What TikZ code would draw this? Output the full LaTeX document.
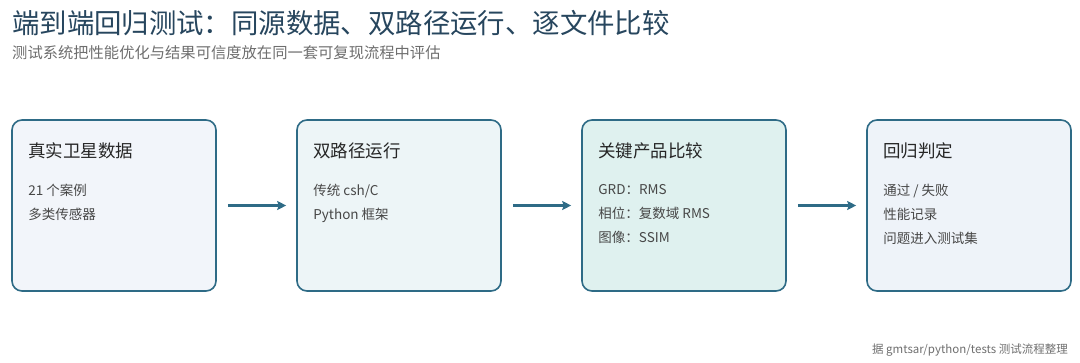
\documentclass[tikz,border=0pt]{standalone}
\usepackage{fontspec}
\setmainfont{Noto Sans CJK SC}
\usetikzlibrary{arrows.meta,positioning}
\definecolor{edgeblue}{HTML}{2E6B86}
\definecolor{titleink}{HTML}{27465E}
\definecolor{subink}{HTML}{6E6E6E}
\definecolor{bodyink}{HTML}{474747}
\definecolor{fillA}{HTML}{F2F5FA}
\definecolor{fillB}{HTML}{EDF5F7}
\definecolor{fillC}{HTML}{DFF1EF}
\definecolor{fillD}{HTML}{EEF3F9}
\begin{document}
\begin{tikzpicture}[x=1pt,y=-1pt, line join=round, >={Stealth[length=9pt,width=9pt,inset=1.5pt]}]
	\tikzset{
		stage/.style={draw=edgeblue, line width=1.6pt, rounded corners=10pt, minimum width=204pt, minimum height=171pt, inner sep=0pt},
		stagehead/.style={anchor=base west, inner sep=0pt, font=\fontsize{17.5}{20}\selectfont, text=black!85},
		stagebody/.style={anchor=north west, inner sep=0pt, align=left, font=\fontsize{13.5}{24}\selectfont, text=bodyink},
		flow/.style={->, draw=edgeblue, line width=2.4pt, shorten <=11pt, shorten >=10pt}
	}
	\useasboundingbox (0,0) rectangle (1080,362);
	
	% headings
	\node[anchor=base west, inner sep=0pt, font=\fontsize{27.4}{30}\selectfont, text=titleink] (title) at (12,33) {端到端回归测试：同源数据、双路径运行、逐文件比较};
	\node[anchor=base west, inner sep=0pt, font=\fontsize{15.3}{18}\selectfont, text=subink] (subtitle) at (12,58) {测试系统把性能优化与结果可信度放在同一套可复现流程中评估};
	
	% stages
	\foreach \i/\x/\c in {1/114/fillA,2/399/fillB,3/684/fillC,4/969/fillD}
		\node[stage, fill=\c] (s\i) at (\x,205.5) {};
	
	\node[stagehead] (h1) at ([shift={(17,38)}]s1.north west) {真实卫星数据};
	\node[stagebody] (b1) at ([shift={(17,65)}]s1.north west) {21 个案例\\多类传感器};
	
	\node[stagehead] (h2) at ([shift={(17,38)}]s2.north west) {双路径运行};
	\node[stagebody] (b2) at ([shift={(17,65)}]s2.north west) {传统 csh/C\\Python 框架};
	
	\node[stagehead] (h3) at ([shift={(17,38)}]s3.north west) {关键产品比较};
	\node[stagebody] (b3) at ([shift={(17,65)}]s3.north west) {GRD：RMS\\相位：复数域 RMS\\图像：SSIM};
	
	\node[stagehead] (h4) at ([shift={(17,38)}]s4.north west) {回归判定};
	\node[stagebody] (b4) at ([shift={(17,65)}]s4.north west) {通过 / 失败\\性能记录\\问题进入测试集};
	
	% connectors
	\foreach \a/\b in {s1/s2,s2/s3,s3/s4}
		\draw[flow] (\a.east) -- (\b.west);
	
	\node[anchor=base east, inner sep=0pt, font=\fontsize{11.5}{14}\selectfont, text=subink] (source) at (1068,353) {据 gmtsar/python/tests 测试流程整理};
\end{tikzpicture}
\end{document}
